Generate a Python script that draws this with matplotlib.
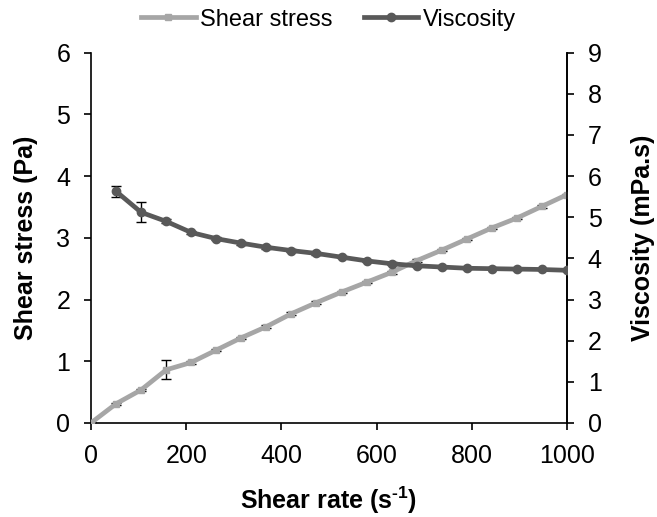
import numpy as np
import matplotlib
matplotlib.use('Agg')
import matplotlib.pyplot as plt

plt.rcParams['font.family'] = ['Liberation Sans', 'DejaVu Sans']
plt.rcParams['mathtext.fontset'] = 'custom'
plt.rcParams['mathtext.rm'] = 'Liberation Sans:bold'
plt.rcParams['mathtext.bf'] = 'Liberation Sans:bold'

# shear rate steps (s^-1)
shear_rate = np.linspace(0, 1000, 20)

shear_stress = [0.00, 0.31, 0.535, 0.86, 0.98, 1.18, 1.38, 1.56, 1.77, 1.95,
                2.12, 2.28, 2.44, 2.63, 2.80, 2.98, 3.16, 3.32, 3.51, 3.70]
stress_err = [0.01, 0.02, 0.02, 0.155, 0.02, 0.02, 0.02, 0.02, 0.02, 0.02,
              0.02, 0.02, 0.02, 0.02, 0.02, 0.02, 0.02, 0.02, 0.02, 0.01]

# viscosity has no value at zero shear rate
visc_rate = shear_rate[1:]
viscosity = [5.63, 5.12, 4.90, 4.63, 4.48, 4.37, 4.27, 4.19, 4.12,
             4.03, 3.94, 3.87, 3.82, 3.79, 3.76, 3.75, 3.74, 3.73, 3.71]
visc_err = [0.14, 0.24, 0.05, 0.04, 0.04, 0.04, 0.04, 0.04, 0.04,
            0.03, 0.03, 0.03, 0.03, 0.02, 0.02, 0.02, 0.02, 0.02, 0.01]

LIGHT = '#a6a6a6'
DARK = '#595959'
FS = 18

fig = plt.figure(figsize=(6.57, 5.17), dpi=100)
ax = fig.add_axes([0.1385, 0.182, 0.7245, 0.716])
ax2 = ax.twinx()

ax.errorbar(shear_rate, shear_stress, yerr=stress_err, color=LIGHT,
            lw=3.4, marker='s', ms=5, ecolor='black', elinewidth=1,
            capsize=3.5, capthick=1, zorder=3)
ax2.errorbar(visc_rate, viscosity, yerr=visc_err, color=DARK,
             lw=3.4, marker='o', ms=6, ecolor='black', elinewidth=1,
             capsize=3.5, capthick=1, zorder=3)

ax.set_xlim(0, 1000)
ax.set_ylim(0, 6)
ax2.set_ylim(0, 9)
ax.set_xticks(range(0, 1001, 200))
ax.set_yticks(range(0, 7))
ax2.set_yticks(range(0, 10))

for a in (ax, ax2):
    a.spines['top'].set_visible(False)
    for s in a.spines.values():
        s.set_linewidth(1.2)
    a.tick_params(labelsize=FS, width=1.2, length=5, direction='out', pad=10)
ax2.spines['left'].set_visible(False)
ax2.spines['bottom'].set_visible(False)

ax.set_xlabel(r'Shear rate (s$^{\text{-}1}$)', fontsize=FS, fontweight='bold',
              labelpad=12)
ax.set_ylabel('Shear stress (Pa)', fontsize=FS, fontweight='bold', labelpad=13)
ax2.set_ylabel('Viscosity (mPa.s)', fontsize=FS, fontweight='bold', labelpad=21)

handles = [plt.Line2D([], [], color=LIGHT, lw=3.4, marker='s', ms=5),
           plt.Line2D([], [], color=DARK, lw=3.4, marker='o', ms=6)]
fig.legend(handles, ['Shear stress', 'Viscosity'], loc='center',
           bbox_to_anchor=(0.5, 0.962), ncol=2, frameon=False, fontsize=17,
           handlelength=2.3, columnspacing=1.3, handletextpad=0.2)

fig.savefig('out.png', dpi=100)
